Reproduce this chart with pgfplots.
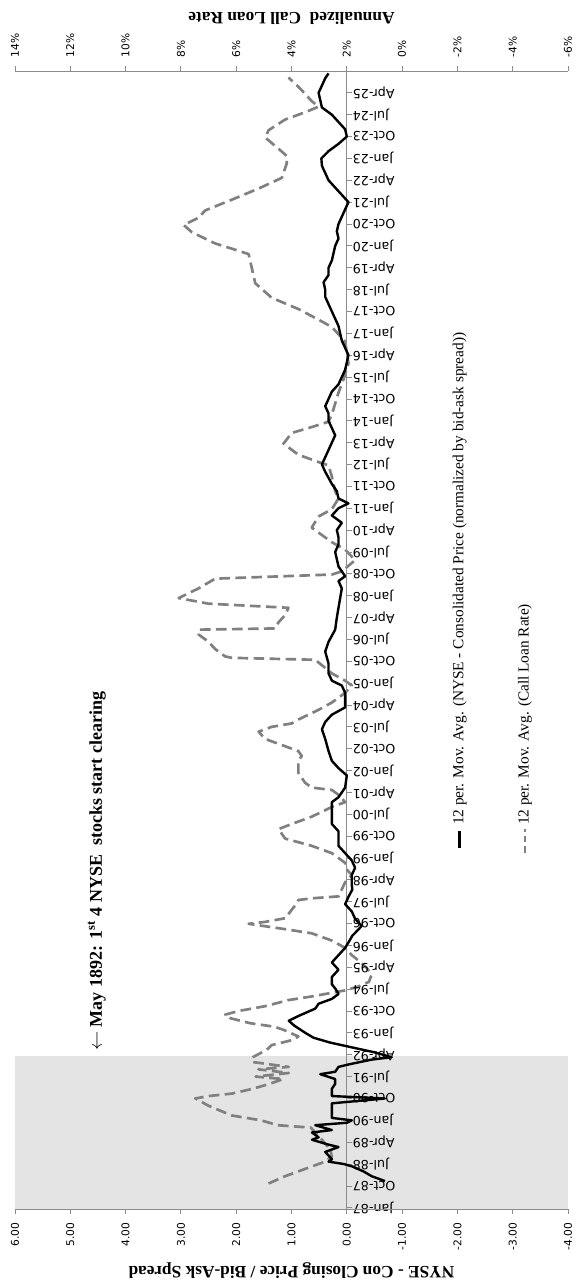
\documentclass[border=0pt]{standalone}
\usepackage{pgfplots}
\usepackage{pgfplotstable}
\pgfplotsset{compat=1.18}
\usepackage{fontspec}
\setmainfont{Liberation Serif}
\newfontfamily\tickfont{DejaVu Sans}
\definecolor{axgray}{HTML}{8C8C8C}
\definecolor{shade}{HTML}{E4E4E4}
\definecolor{dashgray}{HTML}{808080}

% NYSE consolidated price / bid-ask spread, 12 per. mov. avg. (m = months since Jan 1887)
\pgfplotstableread{
m v
11 -0.69
13 -0.45
15 -0.30
17 -0.10
18 0.05
19 0.33
20 0.27
22 0.35
23 0.39
25 0.15
26 0.33
28 0.63
29 0.51
31 0.63
32 0.27
34 0.57
35 0.00
36 -0.09
37 0.27
40 0.27
43 0.27
45 -0.69
46 0.27
49 0.27
51 0.21
53 0.21
55 0.48
56 0.21
58 0.15
59 -0.03
61 -0.45
62 -0.81
64 -0.50
66 -0.10
68 0.30
70 0.60
72 0.75
75 0.95
77 1.05
79 0.87
82 0.57
84 0.51
86 0.27
88 0.15
90 0.20
92 0.27
95 0.27
98 0.15
101 0.27
104 0.15
107 0.03
110 -0.05
112 -0.10
116 -0.27
119 -0.15
122 -0.09
125 0.03
128 -0.03
131 -0.10
133 -0.09
137 -0.09
140 -0.15
143 -0.09
146 0.03
149 0.15
152 0.15
155 0.15
158 0.27
163 0.27
167 0.27
169 0.15
173 0.03
178 0.00
181 0.15
184 0.27
188 0.33
193 0.39
197 0.45
200 0.39
203 0.27
206 0.03
209 0.03
212 0.03
215 0.09
217 0.27
220 0.33
224 0.33
229 0.39
233 0.33
238 0.21
243 0.18
247 0.15
251 0.12
255 0.09
258 0.15
260 0.03
264 0.15
267 0.18
270 0.21
273 0.15
276 0.15
279 0.18
282 0.09
285 0.27
288 0.15
290 -0.03
292 0.15
295 0.18
298 0.27
303 0.39
306 0.45
309 0.39
312 0.33
315 0.27
318 0.21
321 0.27
324 0.33
327 0.33
330 0.39
333 0.33
336 0.27
339 0.15
342 0.09
345 0.03
348 0.00
351 -0.03
354 0.03
357 0.09
360 0.12
363 0.15
366 0.21
369 0.27
372 0.33
375 0.39
378 0.39
381 0.42
384 0.33
387 0.33
390 0.27
393 0.24
396 0.21
399 0.15
402 0.18
405 0.15
408 0.09
411 0.03
414 -0.03
417 0.09
420 0.21
423 0.33
426 0.39
429 0.45
432 0.46
435 0.33
438 0.15
441 0.00
444 0.03
447 0.15
450 0.27
453 0.45
456 0.48
459 0.51
462 0.45
465 0.39
467 0.33
}\solidtab

% Call loan rate, 12 per. mov. avg. (percent)
\pgfplotstableread{
m r
10 4.83
13 4.23
16 3.51
19 2.78
21 2.54
24 2.60
28 2.90
31 3.14
33 3.30
34 4.50
36 5.10
38 6.16
42 7.00
45 7.48
46 7.00
47 6.16
49 5.40
51 4.80
53 4.30
54 5.30
55.5 4.10
57 5.20
58 4.10
60 5.40
62 5.40
65 4.90
67 4.71
69 3.99
70.5 3.75
73 4.23
74.5 4.60
76 5.50
78 6.20
79.5 6.40
81 5.92
83 4.95
85.5 4.11
87 3.27
88.5 2.54
89.5 2.06
91 1.60
93 1.20
96 1.10
99 1.30
102 1.60
104 1.82
107 2.06
110 2.54
113 3.27
114.7 4.23
116.9 5.55
117.7 4.95
119.2 4.23
124 3.90
126.7 3.75
127.4 3.27
128.2 2.30
134 2.06
137 1.82
140 2.06
142 2.06
146 2.54
149 3.27
152 4.23
155.9 4.47
158 3.99
161 3.27
165 2.54
167 2.06
170 2.30
172 2.54
173 3.27
175 3.51
179 3.75
184 3.75
186 3.63
188 3.75
190 4.23
193 4.95
196 5.19
198 4.71
199.4 3.99
201 3.75
205 3.02
208 2.54
212 2.06
215 1.82
217 2.06
220 2.54
225.6 3.14
226.4 6.16
227 6.40
230 6.76
233 7.00
236 7.36
238 7.36
238.5 4.59
241 4.47
244 4.23
247 4.11
248.7 7.00
251 8.08
255 7.36
259 6.76
260.7 2.54
262 2.18
266.6 1.70
271 2.06
274 2.54
280 3.27
284.6 3.02
287.6 2.54
292 2.30
295 2.42
301 2.54
305.6 2.66
307 3.02
310 3.75
314.6 4.29
319 3.99
321.4 3.27
323.6 2.66
326.6 2.54
335.6 2.30
341.6 2.10
347.6 1.94
356.6 2.06
362.6 2.54
365.6 3.02
370 3.75
374.6 4.71
380.6 5.31
386.6 5.43
392.6 5.55
394 5.92
397 6.76
401.6 7.60
404.6 7.90
407.6 7.36
410.6 7.12
415 6.16
419.6 5.19
424 4.35
430 4.17
433 4.17
436 4.47
440.6 4.95
443.6 4.83
448 4.23
451 3.51
453.3 3.02
455.6 3.27
458.6 3.51
461.5 3.75
465.3 4.11
}\ratetab

\pgfplotsset{
  common/.style={
    scale only axis, height=853.5pt,
    ymin=-0.5, ymax=468,
    major tick length=3.75pt,
    every tick/.style={axgray, line width=0.6pt},
  },
}

\begin{document}
\begin{tikzpicture}
\path[use as bounding box] (0,0) rectangle (433.5pt,960.75pt);

% ---------- secondary axis (call loan rate), top ----------
\begin{axis}[
  common, width=414.75pt,
  at={(11.25pt,54pt)}, anchor=south west,
  xmin=-6, xmax=14, x dir=reverse,
  axis x line*=top, hide y axis,
  x axis line style={axgray, line width=0.6pt},
  xtick={-6,-4,...,14},
  xticklabels={-6\%,-4\%,-2\%,0\%,2\%,4\%,6\%,8\%,10\%,12\%,14\%},
  xtick align=outside,
  xticklabel style={yshift=3pt, rotate=90, anchor=west, font=\tickfont\fontsize{8}{9}\selectfont},
  xlabel={Annualized\ \ Call Loan Rate},
  xlabel style={at={(axis description cs:0.5,1.046)}, rotate=180, anchor=center, font=\bfseries\fontsize{13}{15}\selectfont},
]
\addplot[fill=shade, draw=none] coordinates {(-6,-0.5) (14,-0.5) (14,62.5) (-6,62.5)};
\addplot[dashgray, line width=2pt, dash pattern=on 8pt off 4pt, line join=round] table[x=r, y=m] {\ratetab};
\end{axis}

% ---------- time axis at primary 0 ----------
\begin{axis}[
  common, width=165.9pt,
  at={(260.1pt,54pt)}, anchor=south west,
  xmin=0, xmax=1,
  hide x axis, axis y line*=left,
  y axis line style={axgray, line width=0.6pt},
  ytick={0,9,...,459},
  yticklabels={Jan-87,Oct-87,Jul-88,Apr-89,Jan-90,Oct-90,Jul-91,Apr-92,Jan-93,Oct-93,Jul-94,Apr-95,Jan-96,Oct-96,Jul-97,Apr-98,Jan-99,Oct-99,Jul-00,Apr-01,Jan-02,Oct-02,Jul-03,Apr-04,Jan-05,Oct-05,Jul-06,Apr-07,Jan-08,Oct-08,Jul-09,Apr-10,Jan-11,Oct-11,Jul-12,Apr-13,Jan-14,Oct-14,Jul-15,Apr-16,Jan-17,Oct-17,Jul-18,Apr-19,Jan-20,Oct-20,Jul-21,Apr-22,Jan-23,Oct-23,Jul-24,Apr-25},
  ytick align=inside,
  yticklabel style={xshift=1pt, rotate=180, anchor=east, font=\tickfont\fontsize{9.5}{10}\selectfont},
]
\end{axis}

% ---------- primary axis, bottom ----------
\begin{axis}[
  common, width=414.75pt,
  at={(11.25pt,54pt)}, anchor=south west,
  xmin=-4, xmax=6, x dir=reverse,
  axis x line*=bottom, hide y axis,
  x axis line style={axgray, line width=0.6pt},
  xtick={-4,-3,...,6},
  xticklabels={-4.00,-3.00,-2.00,-1.00,0.00,1.00,2.00,3.00,4.00,5.00,6.00},
  xtick align=outside,
  xticklabel style={yshift=-3pt, rotate=90, anchor=east, font=\tickfont\fontsize{8}{9}\selectfont},
  xlabel={NYSE - Con Closing Price / Bid-Ask Spread},
  xlabel style={at={(axis description cs:0.5,-0.0545)}, rotate=180, anchor=center, font=\bfseries\fontsize{13}{15}\selectfont},
  clip=false,
]
\addplot[black, line width=1.8pt, line join=round] table[x=v, y=m] {\solidtab};

\node[rotate=90, anchor=west, inner sep=0pt, font=\bfseries\fontsize{13.5}{15}\selectfont]
  at (axis cs:4.52,64.5) {$\leftarrow$ May 1892: 1\textsuperscript{st} 4 NYSE\ \ stocks start clearing};

% legend
\draw[black, line width=1.8pt] (axis cs:-2.04,148) -- (axis cs:-2.04,155);
\node[rotate=90, anchor=west, inner sep=0pt, font=\fontsize{11.5}{13}\selectfont]
  at (axis cs:-2.04,157.5) {12 per. Mov. Avg. (NYSE - Consolidated Price (normalized by bid-ask spread))};
\draw[dashgray, line width=2pt, dash pattern=on 5pt off 3pt] (axis cs:-3.22,146) -- (axis cs:-3.22,156);
\node[rotate=90, anchor=west, inner sep=0pt, font=\fontsize{11.5}{13}\selectfont]
  at (axis cs:-3.22,157.5) {12 per. Mov. Avg. (Call Loan Rate)};
\end{axis}
\end{tikzpicture}
\end{document}
